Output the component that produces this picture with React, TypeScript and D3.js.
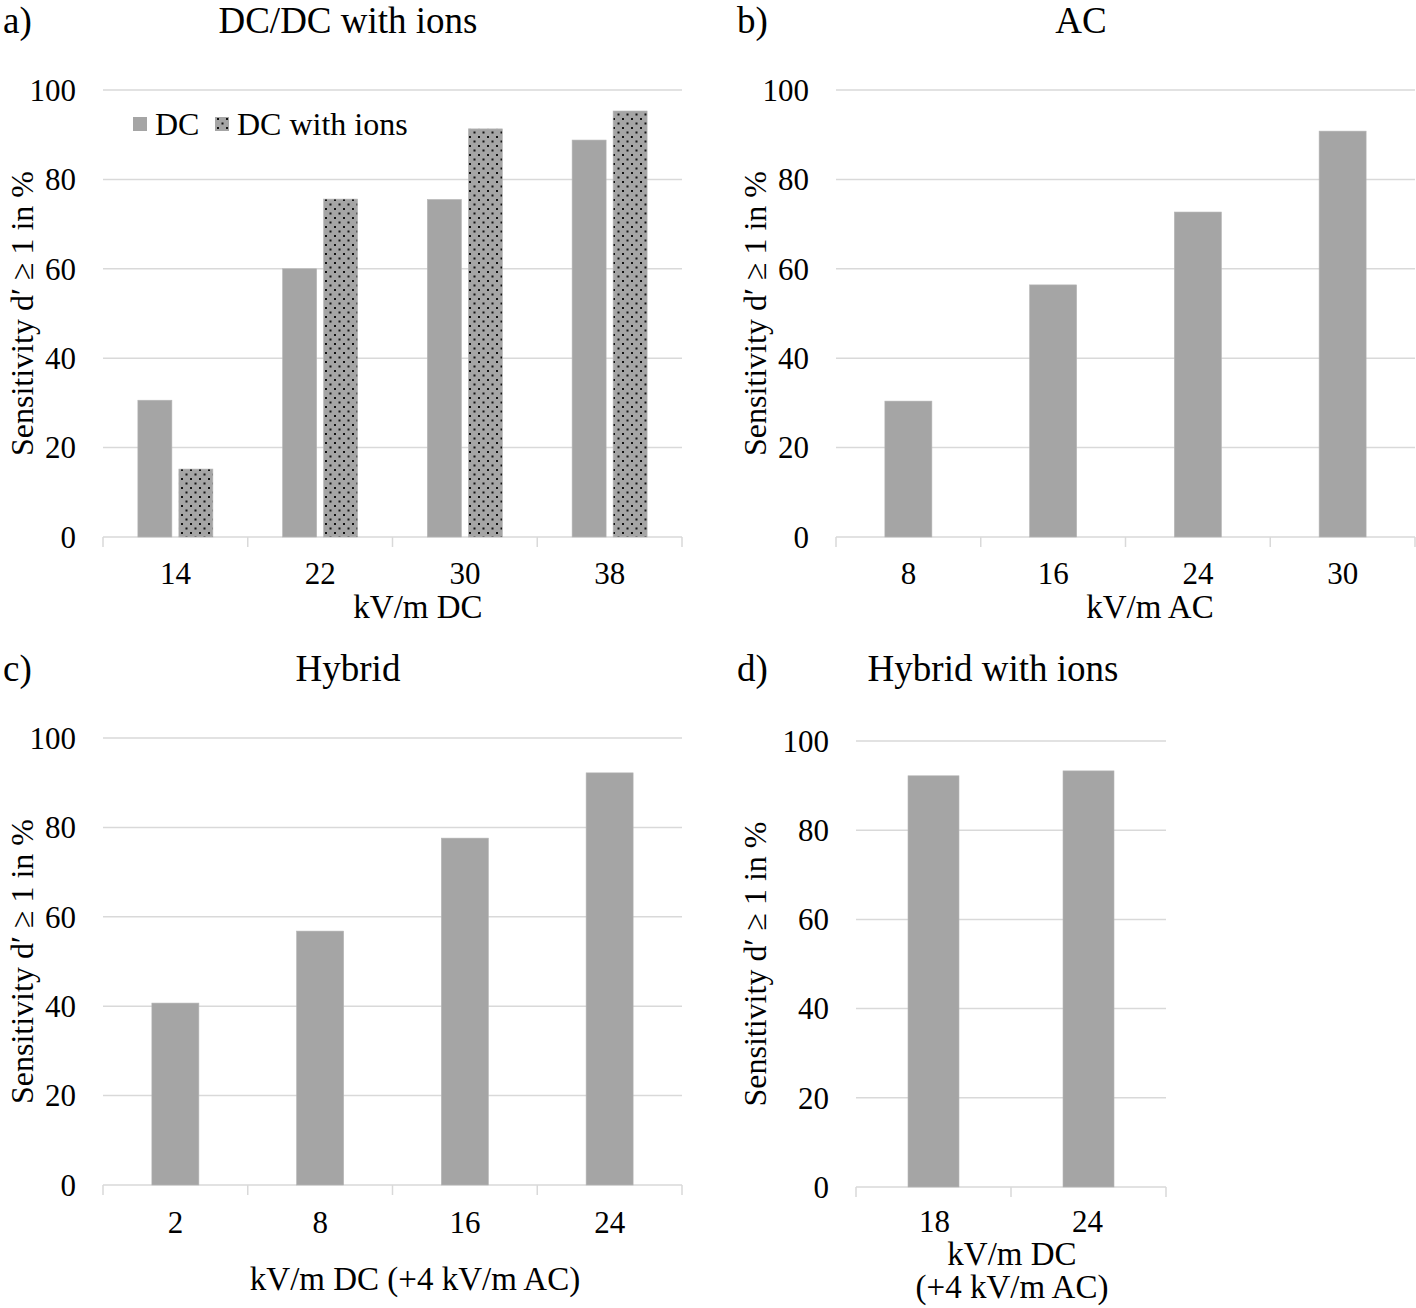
import React from "react";
import * as d3 from "d3";

const catsA = ["14", "22", "30", "38"];
const dcA = [30.6, 60.0, 75.5, 88.8];
const ionsA = [15.2, 75.6, 91.3, 95.3];
const catsB = ["8", "16", "24", "30"];
const valsB = [30.4, 56.4, 72.7, 90.8];
const catsC = ["2", "8", "16", "24"];
const valsC = [40.7, 56.8, 77.6, 92.2];
const catsD = ["18", "24"];
const valsD = [92.2, 93.3];
const yTicks = [0, 20, 40, 60, 80, 100];
const seriesNames = ["DC", "DC with ions"];

const FONT = "'Liberation Serif', 'Times New Roman', serif";
const BAR = "#a5a5a5";
const GRID = "#d9d9d9";
const FS = 33;
const TICKFS = 31;
const TFS = 37;

type PanelProps = {
  x0: number; x1: number; yZero: number; yTop: number;
  cats: string[]; series: number[][]; fills: string[];
  barFrac: number; gapPx?: number;
  yLabelX: number; tickLabelY: number; tickLabelDx?: number[];
};

function Panel(p: PanelProps) {
  const x = d3.scaleBand<string>().domain(p.cats).range([p.x0, p.x1]).padding(0);
  const y = d3.scaleLinear().domain([0, 100]).range([p.yZero, p.yTop]);
  const bw = x.bandwidth();
  const n = p.series.length;
  const barW = bw * p.barFrac;
  const gap = p.gapPx ?? 0;
  const groupW = n * barW + (n - 1) * gap;
  const yMid = (p.yZero + p.yTop) / 2;
  return (
    <g>
      {yTicks.map((t) => (
        <g key={t}>
          <line x1={p.x0} x2={p.x1} y1={y(t)} y2={y(t)} stroke={GRID} strokeWidth={1.5} />
          <text x={p.x0 - 27} y={y(t)} dy="0.35em" textAnchor="end" fontSize={TICKFS} fontFamily={FONT} fill="#000">{t}</text>
        </g>
      ))}
      {p.cats.map((c, i) => (
        <line key={"tk" + i} x1={x(c)!} x2={x(c)!} y1={p.yZero} y2={p.yZero + 10} stroke={GRID} strokeWidth={1.5} />
      ))}
      <line x1={p.x1} x2={p.x1} y1={p.yZero} y2={p.yZero + 10} stroke={GRID} strokeWidth={1.5} />
      {p.series.map((vals, si) =>
        vals.map((v, i) => {
          const cx = x(p.cats[i])! + bw / 2;
          const bx = cx - groupW / 2 + si * (barW + gap);
          return (
            <rect key={si + "-" + i} x={bx} y={y(v)} width={barW} height={p.yZero - y(v)} fill={p.fills[si]} stroke="#b5b5b5" strokeWidth={0.6} />
          );
        })
      )}
      {p.cats.map((c, i) => (
        <text key={"lb" + i} x={x(c)! + bw / 2 + (p.tickLabelDx ? p.tickLabelDx[i] : 0)} y={p.tickLabelY} dy="0.35em" textAnchor="middle" fontSize={TICKFS} fontFamily={FONT}>{c}</text>
      ))}
      <text transform={`translate(${p.yLabelX},${yMid}) rotate(-90)`} textAnchor="middle" dy="0.35em" fontSize={32} fontFamily={FONT}>Sensitivity d′ ≥ 1 in %</text>
    </g>
  );
}

export default function App() {
  return (
    <svg width={1416} height={1308} style={{ position: "absolute", left: 0, top: 0, background: "#fff" }}>
      <defs>
        <pattern id="dots" patternUnits="userSpaceOnUse" width={9} height={9}>
          <rect width={9} height={9} fill={BAR} />
          <rect x={1} y={1} width={2} height={2} fill="#111" />
          <rect x={5.5} y={5.5} width={2} height={2} fill="#111" />
        </pattern>
      </defs>
      <rect width={1416} height={1308} fill="#fff" />

      {/* a */}
      <text x={3} y={20} dy="0.35em" fontSize={TFS} fontFamily={FONT}>a)</text>
      <text x={348} y={20} dy="0.35em" textAnchor="middle" fontSize={TFS} fontFamily={FONT}>DC/DC with ions</text>
      <Panel x0={103} x1={682} yZero={537} yTop={90} cats={catsA} series={[dcA, ionsA]} fills={[BAR, "url(#dots)"]}
        barFrac={34 / 144.75} gapPx={7} yLabelX={22} tickLabelY={573} />
      <text x={418} y={606} dy="0.35em" textAnchor="middle" fontSize={FS} fontFamily={FONT}>kV/m DC</text>
      {/* legend */}
      <rect x={133} y={117} width={14} height={14} fill={BAR} />
      <text x={155} y={124} dy="0.35em" fontSize={32} fontFamily={FONT}>{seriesNames[0]}</text>
      <rect x={215} y={117} width={14} height={14} fill="url(#dots)" />
      <text x={237} y={124} dy="0.35em" fontSize={32} fontFamily={FONT}>{seriesNames[1]}</text>

      {/* b */}
      <text x={737} y={20} dy="0.35em" fontSize={TFS} fontFamily={FONT}>b)</text>
      <text x={1081} y={20} dy="0.35em" textAnchor="middle" fontSize={TFS} fontFamily={FONT}>AC</text>
      <Panel x0={836} x1={1415} yZero={537} yTop={90} cats={catsB} series={[valsB]} fills={[BAR]}
        barFrac={47 / 144.75} yLabelX={755} tickLabelY={573} />
      <text x={1150} y={606} dy="0.35em" textAnchor="middle" fontSize={FS} fontFamily={FONT}>kV/m AC</text>

      {/* c */}
      <text x={3} y={668} dy="0.35em" fontSize={TFS} fontFamily={FONT}>c)</text>
      <text x={348} y={668} dy="0.35em" textAnchor="middle" fontSize={TFS} fontFamily={FONT}>Hybrid</text>
      <Panel x0={103} x1={682} yZero={1185} yTop={738} cats={catsC} series={[valsC]} fills={[BAR]}
        barFrac={47 / 144.75} yLabelX={22} tickLabelY={1222} />
      <text x={415} y={1278} dy="0.35em" textAnchor="middle" fontSize={FS} fontFamily={FONT}>kV/m DC (+4 kV/m AC)</text>

      {/* d */}
      <text x={737} y={668} dy="0.35em" fontSize={TFS} fontFamily={FONT}>d)</text>
      <text x={993} y={668} dy="0.35em" textAnchor="middle" fontSize={TFS} fontFamily={FONT}>Hybrid with ions</text>
      <Panel x0={856} x1={1166} yZero={1187} yTop={741} cats={catsD} series={[valsD]} fills={[BAR]}
        barFrac={51 / 155} yLabelX={755} tickLabelY={1221} tickLabelDx={[1, -1]} />
      <text x={1012} y={1253} dy="0.35em" textAnchor="middle" fontSize={FS} fontFamily={FONT}>kV/m DC</text>
      <text x={1012} y={1286} dy="0.35em" textAnchor="middle" fontSize={FS} fontFamily={FONT}>(+4 kV/m AC)</text>
    </svg>
  );
}
